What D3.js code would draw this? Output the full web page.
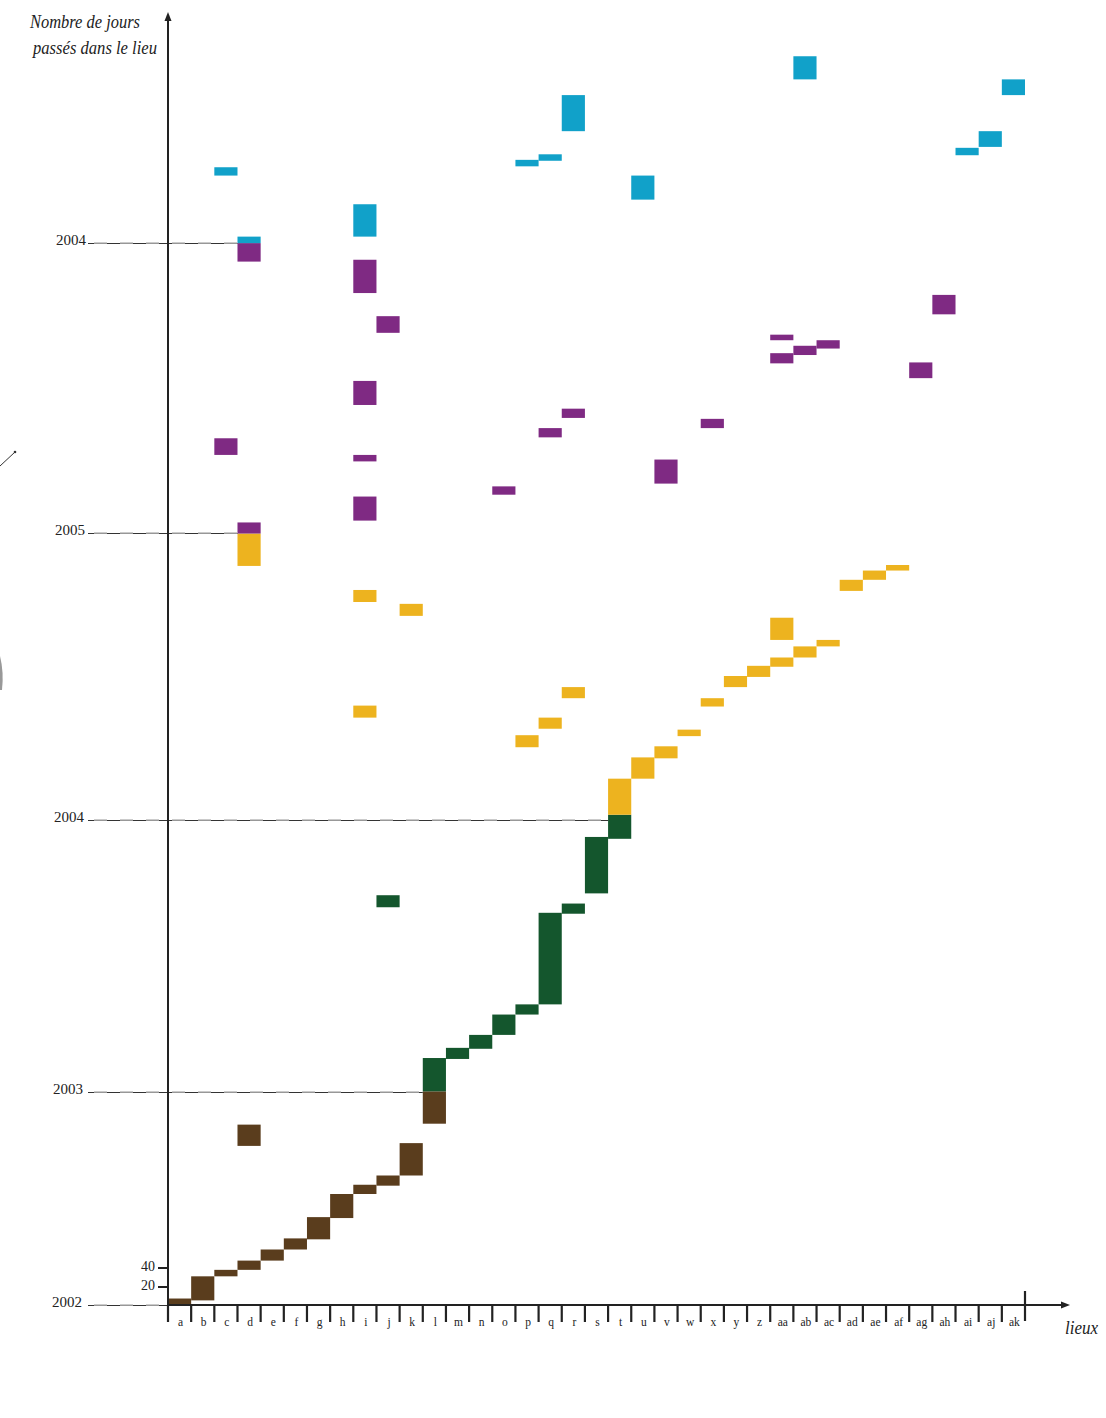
<!DOCTYPE html>
<html>
<head>
<meta charset="utf-8">
<script src="https://cdn.jsdelivr.net/npm/d3@7"></script>
<style>
  body { margin: 0; background: #fff; }
  svg { display: block; }
  text { font-family: "Liberation Serif", "DejaVu Serif", serif; fill: #222; }
</style>
</head>
<body>
<svg id="chart"></svg>
<script>
// lieux (x axis)
const lieux = ["a","b","c","d","e","f","g","h","i","j","k","l","m","n","o","p","q","r","s",
  "t","u","v","w","x","y","z","aa","ab","ac","ad","ae","af","ag","ah","ai","aj","ak"];

// [lieu, jour de début, jour de fin] (jours cumulés)
const sejours2002 = [["a",0,7],["b",5,31],["c",31,38],["d",38,48],["e",48,60],["f",60,72],
  ["g",71,95],["h",94,120],["i",120,130],["j",129,140],["k",140,175],["d",172,195],["l",196,231]];
const sejours2003 = [["l",231,267],["m",266,278],["n",277,292],["o",292,314],["p",314,325],
  ["q",325,424],["r",423,434],["j",430,443],["s",445,506],["t",504,530]];
const sejours2004 = [["t",530,569],["u",569,592],["v",591,604],["p",603,616],["w",615,622],
  ["q",623,635],["i",635,648],["x",647,656],["r",656,668],["y",668,680],["z",679,691],
  ["aa",690,700],["ab",700,712],["ac",712,719],["aa",719,743],["k",745,758],["i",760,773],
  ["ad",772,784],["ae",784,794],["af",794,800],["d",799,834]];
const sejours2005 = [["d",834,846],["i",848,874],["o",876,885],["v",888,914],["i",912,919],
  ["c",919,937],["q",938,948],["x",948,958],["r",959,969],["i",973,999],["ag",1002,1019],
  ["aa",1018,1029],["ab",1027,1037],["ac",1034,1043],["aa",1043,1049],["j",1051,1069],
  ["ah",1071,1092],["i",1094,1130],["d",1128,1148]];
const sejours2006 = [["d",1148,1155],["i",1155,1190],["u",1195,1221],["c",1221,1230],
  ["p",1231,1238],["q",1237,1244],["ai",1243,1251],["aj",1252,1269],["r",1269,1308],
  ["ak",1308,1325],["ab",1325,1350]];

// lignes des années : libellé, jour, lieu où la ligne s'arrête
const anneeLabels = ["2002","2003","2004","2005","2004"];
const anneeJours = [0, 230, 524, 835, 1148];
const anneeFin = [null, "l", "t", "d", "d"];

const yTicks = [20, 40];

const couleurs = ["#5a3d1d", "#14562d", "#edb31f", "#7f2a83", "#11a1c9"];
const series = [sejours2002, sejours2003, sejours2004, sejours2005, sejours2006];

const width = 1106, height = 1418;
const svg = d3.select("#chart").attr("width", width).attr("height", height);

const x = d3.scaleBand().domain(lieux).range([168, 1025]).padding(0);
const y = d3.scaleLinear().domain([0, 1400]).range([1305, 10]);

// rectangles
series.forEach((s, i) => {
  svg.append("g").selectAll("rect")
    .data(s)
    .join("rect")
    .attr("x", d => x(d[0]))
    .attr("y", d => y(d[2]))
    .attr("width", x.bandwidth())
    .attr("height", d => y(d[1]) - y(d[2]))
    .attr("fill", couleurs[i]);
});

// lignes des années
const lignes = svg.append("g");
anneeJours.forEach((j, i) => {
  const yy = Math.round(y(j)) + 0.5;
  const x2 = anneeFin[i] ? x(anneeFin[i]) : x.range()[0];
  lignes.append("line")
    .attr("x1", 88).attr("x2", x2).attr("y1", yy).attr("y2", yy)
    .attr("stroke", "#333").attr("stroke-width", 1);
  lignes.append("line")
    .attr("x1", 88).attr("x2", x2).attr("y1", yy - 0.5).attr("y2", yy - 0.5)
    .attr("stroke", "#bbb").attr("stroke-width", 1.5)
    .attr("stroke-dasharray", "13,13").attr("stroke-dashoffset", -6);
  lignes.append("text")
    .attr("x", 82 + i).attr("y", yy - 2)
    .attr("text-anchor", "end")
    .attr("dominant-baseline", "middle")
    .attr("font-size", 15)
    .attr("textLength", 30).attr("lengthAdjust", "spacingAndGlyphs")
    .text(anneeLabels[i]);
});

// axe y
const axes = svg.append("g").attr("stroke", "#222");
axes.append("line").attr("x1", 168).attr("x2", 168).attr("y1", 1322).attr("y2", 18)
  .attr("stroke-width", 2);
svg.append("path").attr("d", "M168,12 L164.5,21 L171.5,21 Z").attr("fill", "#222");

yTicks.forEach(t => {
  const yy = Math.round(y(t));
  axes.append("line").attr("x1", 158).attr("x2", 168).attr("y1", yy).attr("y2", yy)
    .attr("stroke-width", 2);
  svg.append("text").attr("x", 155).attr("y", yy).attr("text-anchor", "end")
    .attr("dominant-baseline", "middle").attr("font-size", 14).text(t);
});

// axe x
axes.append("line").attr("x1", 168).attr("x2", 1064).attr("y1", 1305).attr("y2", 1305)
  .attr("stroke-width", 2);
svg.append("path").attr("d", "M1070,1305 L1061,1301.5 L1061,1308.5 Z").attr("fill", "#222");

lieux.forEach(l => {
  const xx = x(l);
  axes.append("line").attr("x1", xx).attr("x2", xx).attr("y1", 1305).attr("y2", 1322)
    .attr("stroke-width", 2.2);
  svg.append("text").attr("x", xx + x.bandwidth() / 2 + 1).attr("y", 1326)
    .attr("text-anchor", "middle").attr("font-size", 11.5).text(l);
});
axes.append("line").attr("x1", x.range()[1]).attr("x2", x.range()[1])
  .attr("y1", 1291).attr("y2", 1321).attr("stroke-width", 2.2);

// titres
const titreY = svg.append("text").attr("font-style", "italic").attr("font-size", 19);
titreY.append("tspan").attr("x", 30).attr("y", 28)
  .attr("textLength", 110).attr("lengthAdjust", "spacingAndGlyphs").text("Nombre de jours");
titreY.append("tspan").attr("x", 33).attr("y", 54)
  .attr("textLength", 124).attr("lengthAdjust", "spacingAndGlyphs").text("passés dans le lieu");

svg.append("text").attr("x", 1065).attr("y", 1334).attr("font-style", "italic")
  .attr("font-size", 19).attr("textLength", 33).attr("lengthAdjust", "spacingAndGlyphs")
  .text("lieux");

// traces au bord gauche
svg.append("line").attr("x1", 0).attr("y1", 466).attr("x2", 15).attr("y2", 452)
  .attr("stroke", "#333").attr("stroke-width", 1);
svg.append("circle").attr("cx", 15).attr("cy", 452).attr("r", 1.3).attr("fill", "#333");
svg.append("path").attr("d", "M0,656 Q4,672 2,690 L0,690 Z").attr("fill", "#999");
</script>
</body>
</html>
